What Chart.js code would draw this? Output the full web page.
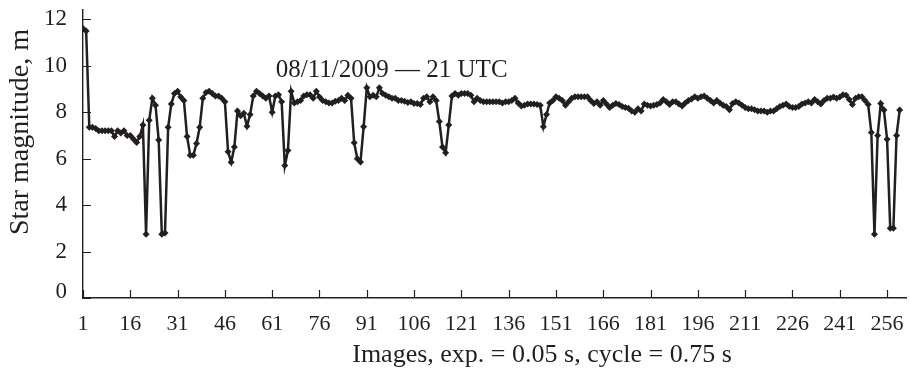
<!DOCTYPE html>
<html><head><meta charset="utf-8">
<script src="https://cdn.jsdelivr.net/npm/chart.js@4.4.1/dist/chart.umd.min.js"></script>
<style>html,body{margin:0;padding:0;background:#fff;}#wrap{width:910px;height:372px;}</style>
</head><body><div id="wrap"><canvas id="c" width="910" height="372"></canvas></div>
<script>
// Star magnitude per image (images 1..260)
const starMagnitude = [
  11.6, 11.5, 7.35, 7.35, 7.3, 7.2, 7.2, 7.2, 7.2, 7.2,
  6.95, 7.2, 7.1, 7.2, 7.0, 7.0, 6.85, 6.7, 6.95, 7.45,
  2.75, 7.65, 8.6, 8.3, 6.8, 2.75, 2.8, 7.35, 8.35, 8.8,
  8.9, 8.65, 8.5, 6.95, 6.15, 6.15, 6.65, 7.35, 8.6, 8.85,
  8.9, 8.8, 8.7, 8.7, 8.6, 8.45, 6.3, 5.85, 6.5, 8.05,
  7.85, 7.95, 7.4, 7.9, 8.7, 8.9, 8.8, 8.7, 8.6, 8.7,
  8.0, 8.7, 8.75, 8.45, 5.7, 6.35, 8.9, 8.4, 8.45, 8.5,
  8.7, 8.75, 8.75, 8.6, 8.9, 8.65, 8.5, 8.45, 8.4, 8.4,
  8.47, 8.5, 8.6, 8.5, 8.73, 8.6, 6.68, 6.0, 5.86, 7.37,
  9.05, 8.66, 8.73, 8.66, 9.05, 8.8, 8.73, 8.66, 8.6, 8.6,
  8.5, 8.5, 8.47, 8.42, 8.45, 8.37, 8.37, 8.33, 8.6, 8.66,
  8.45, 8.66, 8.5, 7.6, 6.5, 6.25, 7.45, 8.7, 8.8, 8.73,
  8.8, 8.8, 8.8, 8.73, 8.45, 8.6, 8.5, 8.45, 8.45, 8.45,
  8.45, 8.45, 8.45, 8.4, 8.45, 8.45, 8.5, 8.6, 8.4, 8.27,
  8.3, 8.35, 8.35, 8.35, 8.33, 8.3, 7.37, 7.9, 8.4, 8.5,
  8.66, 8.6, 8.5, 8.3, 8.45, 8.6, 8.66, 8.66, 8.66, 8.66,
  8.66, 8.5, 8.37, 8.45, 8.3, 8.5, 8.35, 8.2, 8.3, 8.37,
  8.33, 8.25, 8.2, 8.17, 8.05, 8.0, 8.15, 8.05, 8.35, 8.3,
  8.27, 8.3, 8.33, 8.4, 8.55, 8.45, 8.33, 8.45, 8.45, 8.35,
  8.27, 8.4, 8.5, 8.57, 8.66, 8.6, 8.66, 8.7, 8.6, 8.5,
  8.4, 8.5, 8.4, 8.3, 8.25, 8.1, 8.37, 8.45, 8.4, 8.3,
  8.2, 8.15, 8.15, 8.1, 8.05, 8.05, 8.05, 8.0, 8.05, 8.05,
  8.15, 8.25, 8.3, 8.35, 8.25, 8.2, 8.2, 8.25, 8.35, 8.4,
  8.45, 8.4, 8.55, 8.45, 8.35, 8.5, 8.6, 8.6, 8.65, 8.6,
  8.65, 8.75, 8.73, 8.55, 8.33, 8.6, 8.66, 8.66, 8.5, 8.33,
  7.13, 2.75, 7.0, 8.37, 8.09, 6.84, 3.0, 3.0, 7.0, 8.09
];
const imageNumbers = starMagnitude.map((_, k) => k + 1);
const xTickValues = [1, 16, 31, 46, 61, 76, 91, 106, 121, 136, 151, 166, 181, 196, 211, 226, 241, 256];
const yTickValues = [0, 2, 4, 6, 8, 10, 12];
const xAxisTitle = 'Images, exp. = 0.05 s, cycle = 0.75 s';
const yAxisTitle = 'Star magnitude, m';
const annotationText = '08/11/2009 \u2014 21 UTC';

const INK = '#231f20';
const SERIF = "'Liberation Serif', 'DejaVu Serif', serif";

const decor = {
  id: 'decor',
  afterDraw(chart) {
    const {ctx, chartArea} = chart;
    const xs = chart.scales.x, ys = chart.scales.y;
    ctx.save();
    ctx.strokeStyle = INK;
    ctx.lineWidth = 1.2;
    ctx.beginPath();
    xTickValues.forEach(v => {
      const px = Math.round(xs.getPixelForValue(v)) + 0.5;
      ctx.moveTo(px, chartArea.bottom);
      ctx.lineTo(px, chartArea.bottom - 8);
    });
    yTickValues.forEach(v => {
      const py = Math.round(ys.getPixelForValue(v)) + 0.5;
      ctx.moveTo(chartArea.left, py);
      ctx.lineTo(chartArea.left + 8, py);
    });
    ctx.stroke();
    ctx.fillStyle = INK;
    // zero label of the y axis, lifted slightly above the x axis as in the original
    ctx.font = '23px ' + SERIF;
    ctx.textAlign = 'right';
    ctx.textBaseline = 'middle';
    ctx.fillText(String(yTickValues[0]), chartArea.left - 16, ys.getPixelForValue(yTickValues[0]) - 6);
    // annotation
    ctx.font = '25px ' + SERIF;
    ctx.textAlign = 'center';
    ctx.textBaseline = 'alphabetic';
    ctx.fillText(annotationText, xs.getPixelForValue(98.9), ys.getPixelForValue(9.5));
    // x title
    ctx.font = '26px ' + SERIF;
    ctx.textBaseline = 'middle';
    ctx.fillText(xAxisTitle, 542, 355);
    // y title
    ctx.translate(21, 132);
    ctx.rotate(-Math.PI / 2);
    ctx.font = '28px ' + SERIF;
    ctx.fillText(yAxisTitle, 0, 0);
    ctx.restore();
  }
};

new Chart(document.getElementById('c'), {
  type: 'line',
  data: {
    datasets: [{
      data: imageNumbers.map((n, k) => ({x: n, y: starMagnitude[k]})),
      borderColor: INK,
      backgroundColor: INK,
      borderWidth: 2.5,
      pointStyle: 'rectRot',
      pointRadius: 3.5,
      pointBorderWidth: 0,
      pointBackgroundColor: INK,
      tension: 0
    }]
  },
  options: {
    responsive: false,
    animation: false,
    devicePixelRatio: 1,
    layout: {padding: {top: 10, right: 4, left: 0, bottom: 0}},
    plugins: {legend: {display: false}, tooltip: {enabled: false}},
    scales: {
      x: {
        type: 'linear', min: 1, max: 262,
        afterBuildTicks: s => { s.ticks = xTickValues.map(v => ({value: v})); },
        afterFit: s => { s.height = 74; s.paddingLeft = 0; s.paddingRight = 0; },
        ticks: {font: {family: SERIF, size: 22}, color: INK, padding: 13, maxRotation: 0, autoSkip: false},
        grid: {drawOnChartArea: false, drawTicks: false},
        border: {color: INK, width: 1.4}
      },
      y: {
        min: 0, max: 12.4,
        afterBuildTicks: s => { s.ticks = yTickValues.map(v => ({value: v})); },
        afterFit: s => { s.width = 83; s.paddingTop = 0; s.paddingBottom = 0; },
        ticks: {
          font: {family: SERIF, size: 23}, color: INK, padding: 16,
          callback: v => (v === yTickValues[0] ? '' : String(v))
        },
        grid: {drawOnChartArea: false, drawTicks: false},
        border: {color: INK, width: 1.4}
      }
    }
  },
  plugins: [decor]
});
</script>
</body></html>
